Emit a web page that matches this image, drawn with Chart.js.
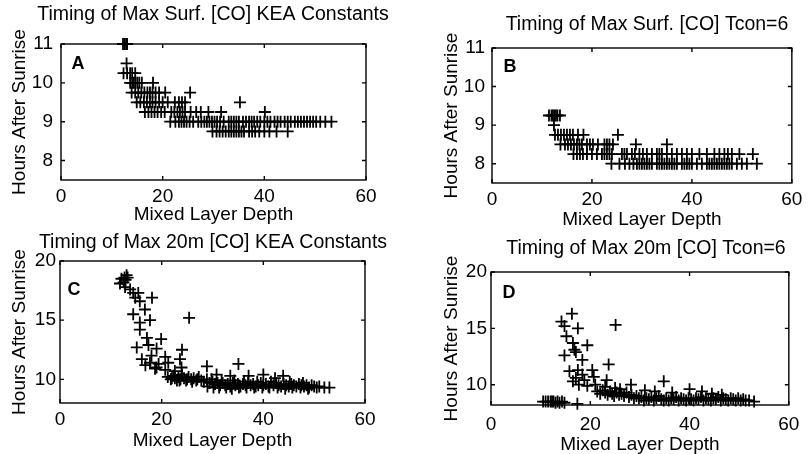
<!DOCTYPE html>
<html>
<head>
<meta charset="utf-8">
<script src="https://cdn.jsdelivr.net/npm/chart.js@4.4.1/dist/chart.umd.min.js"></script>
<style>
  html, body { margin: 0; padding: 0; background: #fff; }
  #page { position: relative; width: 808px; height: 454px; overflow: hidden; background: #fff; }
  #page canvas { position: absolute; left: 0; top: 0; }
</style>
</head>
<body>
<div id="page">
  <canvas id="cA" width="808" height="454"></canvas>
  <canvas id="cB" width="808" height="454"></canvas>
  <canvas id="cC" width="808" height="454"></canvas>
  <canvas id="cD" width="808" height="454"></canvas>
</div>
<script>
const FONT = '"Liberation Sans", Arial, Helvetica, sans-serif';

// ---- data ----
const xTicks = [0, 20, 40, 60];
const yTicksSurf = [8, 9, 10, 11];
const yTicks20m = [10, 15, 20];

// A: surface, KEA constants (timings fall on quarter hours)
const aHours = [11, 10.5, 10.25, 10, 9.75, 9.5, 9.25, 9, 8.75];
const aDepths = [
  [12.2, 12.5, 12.8, 13.0],
  [12.9],
  [12.3, 13.0, 13.6, 14.0, 14.6],
  [13.6, 14.0, 14.3, 14.6, 15.0, 15.4, 15.9, 18.1],
  [13.9, 14.6, 15.2, 15.8, 16.4, 17.0, 17.5, 18.0, 18.6, 19.3, 20.5, 25.4],
  [14.9, 15.6, 16.3, 16.9, 17.5, 18.0, 18.6, 19.3, 20.0, 21.0, 22.4, 23.2, 23.8, 24.4, 35.2],
  [16.5, 17.2, 17.8, 18.4, 19.0, 19.7, 20.4, 21.7, 22.3, 22.9, 23.4, 23.9, 24.4, 25.5, 26.6, 27.5, 29.0, 31.5, 40.1],
  [21.5, 22.5, 23.2, 23.7, 24.2, 24.7, 25.3, 26.0, 27.0, 27.6, 28.2, 28.7, 29.2, 29.7, 30.2, 30.7, 31.3, 32.0,
   33.0, 33.5, 34.0, 34.5, 35.0, 35.8, 36.4, 37.0, 37.5, 38.0, 38.6, 39.2, 40.0, 40.6, 41.2, 42.0, 42.6, 43.2,
   44.0, 44.6, 45.2, 46.0, 46.6, 47.2, 47.8, 48.4, 49.0, 49.6, 50.2, 51.0, 52.0, 53.2],
  [29.8, 30.6, 31.2, 31.8, 32.4, 33.0, 33.5, 34.0, 34.5, 35.0, 35.5, 36.0, 37.0, 37.6, 38.2, 39.0, 40.0, 41.0, 42.4, 44.6]
];

// B: surface, Tcon=6
const bHours = [9.25, 9, 8.75, 8.5, 8.25, 8];
const bDepths = [
  [11.4, 11.9, 12.2, 12.5, 12.8, 13.1, 13.6],
  [12.4],
  [12.6, 13.2, 13.8, 14.4, 15.0, 15.6, 16.2, 17.2, 18.3, 25.2],
  [13.7, 14.6, 15.2, 15.8, 16.4, 17.0, 17.5, 18.0, 19.0, 19.6, 20.2, 21.2, 22.5, 23.0, 23.5, 24.2, 28.8, 35.0],
  [16.3, 17.0, 17.6, 18.2, 19.0, 20.0, 21.0, 22.0, 22.5, 23.0, 23.5, 24.0, 26.0, 26.5, 27.0, 28.0, 28.6,
   29.5, 30.2, 31.0, 32.0, 33.0, 33.5, 34.0, 35.0, 36.0, 37.0, 38.0, 39.0, 40.0, 41.5, 43.0, 44.5, 45.5,
   46.5, 47.2, 48.0, 49.5, 52.2],
  [23.9, 25.5, 26.6, 27.5, 28.3, 29.0, 29.5, 30.0, 30.5, 31.0, 31.5, 32.0, 33.0, 33.5, 34.0, 34.5, 35.0,
   35.5, 36.0, 36.5, 37.0, 38.0, 38.5, 39.0, 39.5, 40.0, 41.0, 42.0, 43.0, 43.5, 44.0, 44.5, 45.0, 45.5,
   46.0, 46.5, 47.0, 47.5, 48.0, 49.0, 50.0, 51.0, 53.0]
];

// C: 20 m, KEA constants  [depth, hours]
const cSteep = [
  [11.8, 18.1], [12.1, 18.5], [12.5, 18.2], [12.7, 18.6], [12.9, 18.4], [13.1, 18.8], [13.3, 18.6], [12.8, 17.8],
  [13.8, 17.6], [14.4, 17.3], [15.4, 17.3], [14.8, 16.9], [18.1, 16.9], [15.7, 16.6], [16.7, 15.9], [14.4, 15.5],
  [17.7, 15.0], [15.7, 14.8], [15.7, 14.2], [25.4, 15.2], [17.1, 13.5], [19.9, 13.4], [17.4, 12.9], [15.1, 12.7],
  [19.0, 12.6], [24.0, 12.5], [16.1, 11.7], [18.0, 12.0], [20.7, 11.9], [17.7, 11.4], [19.4, 11.3], [21.3, 11.4],
  [23.6, 11.7], [23.9, 11.0], [18.7, 10.9], [20.7, 10.8], [22.6, 10.7], [16.8, 11.2], [19.0, 11.0]
];
const cTail = [
  [21.2, 10.2], [21.8, 10.0], [22.0, 10.1], [22.3, 10.3], [22.6, 10.1], [23.0, 9.9], [23.3, 10.2], [23.5, 9.9],
  [23.7, 10.0], [24.0, 10.4], [24.4, 10.1], [24.8, 9.9], [25.0, 10.0], [25.3, 10.2], [25.8, 10.0], [26.0, 9.8],
  [26.3, 10.1], [26.8, 9.9], [27.0, 10.0], [27.3, 10.2], [27.8, 9.9], [28.3, 9.8], [28.9, 10.0], [28.9, 11.1],
  [29.0, 9.4], [29.4, 9.7], [29.8, 10.0], [30.0, 9.8], [30.2, 9.3], [30.5, 9.6], [30.8, 10.4], [31.0, 9.7],
  [31.3, 9.3], [31.5, 9.5], [31.8, 9.9], [32.0, 9.7], [32.5, 9.5], [32.7, 9.3], [33.0, 9.6], [33.5, 10.3],
  [33.5, 9.4], [33.8, 9.2], [34.0, 9.7], [34.3, 9.9], [34.5, 9.5], [35.0, 9.6], [35.1, 11.3], [35.2, 9.3],
  [35.5, 9.4], [36.0, 9.6], [36.2, 9.8], [36.5, 9.5], [36.7, 9.3], [37.0, 9.7], [37.1, 10.3], [37.5, 9.5],
  [38.0, 9.6], [38.2, 9.3], [38.5, 9.4], [38.8, 9.8], [39.0, 9.5], [39.5, 9.7], [39.8, 9.3], [40.0, 10.4],
  [40.0, 9.5], [40.5, 9.6], [41.0, 9.4], [41.2, 9.3], [41.5, 9.8], [42.0, 9.5], [42.3, 10.1], [42.5, 9.7],
  [42.8, 9.3], [43.0, 9.5], [43.5, 9.4], [43.9, 10.3], [44.0, 9.6], [44.3, 9.2], [44.5, 9.5], [45.0, 9.4],
  [45.2, 9.8], [45.5, 9.6], [45.7, 9.3], [46.0, 9.5], [46.5, 9.4], [47.0, 9.6], [47.3, 9.3], [47.5, 9.5],
  [47.8, 9.7], [48.0, 9.4], [48.5, 9.5], [48.8, 9.2], [49.0, 9.3], [49.5, 9.5], [50.0, 9.4], [50.5, 9.3],
  [51.0, 9.4], [52.0, 9.3], [53.0, 9.3]
];

// D: 20 m, Tcon=6  [depth, hours]
const dSteep = [
  [16.3, 16.3], [14.2, 15.6], [14.8, 15.2], [17.5, 15.0], [25.1, 15.3], [15.2, 14.3], [16.5, 13.7], [19.4, 13.5],
  [16.8, 13.1], [17.1, 12.9], [14.8, 12.6], [18.4, 12.2], [15.8, 11.2], [17.5, 11.3], [20.4, 11.3], [23.7, 11.8],
  [16.5, 10.3], [17.1, 10.6], [18.4, 10.9], [18.8, 10.4], [20.7, 10.7], [17.7, 10.0], [19.4, 9.9], [21.0, 10.0],
  [23.3, 10.4], [28.2, 10.0], [34.8, 10.3], [40.0, 9.6]
];
const dShallow = [
  [10.5, 8.5], [11.0, 8.5], [11.5, 8.5], [12.0, 8.5], [12.3, 8.5], [12.6, 8.5], [13.0, 8.4], [13.4, 8.5],
  [13.8, 8.4], [14.3, 8.5], [14.8, 8.4], [17.4, 8.3]
];
const dTail = [
  [21.4, 9.4], [22.0, 9.2], [22.5, 9.5], [23.0, 9.3], [23.0, 9.8], [23.5, 9.1], [24.0, 9.4], [24.4, 9.2],
  [24.8, 9.0], [25.0, 9.7], [25.3, 9.3], [25.8, 9.1], [26.0, 9.6], [26.3, 9.2], [26.8, 9.0], [27.3, 9.3],
  [27.8, 8.9], [28.3, 9.1], [28.8, 8.8], [29.3, 9.0], [29.8, 8.8], [30.3, 8.9], [30.8, 8.6], [31.0, 9.5],
  [31.3, 8.8], [31.8, 8.7], [32.3, 8.9], [32.8, 8.6], [33.0, 9.4], [33.3, 8.8], [33.8, 9.0], [34.3, 8.7],
  [34.8, 8.6], [35.3, 8.8], [35.8, 8.6], [36.3, 8.8], [36.5, 9.3], [36.8, 8.7], [37.3, 8.9], [37.8, 8.6],
  [38.3, 8.8], [38.8, 8.7], [39.3, 8.6], [39.8, 8.8], [40.3, 8.7], [40.8, 8.6], [41.3, 8.8], [41.8, 8.7],
  [42.3, 8.9], [42.5, 9.4], [42.8, 8.6], [43.3, 8.8], [43.8, 8.7], [44.3, 8.6], [44.5, 9.2], [44.8, 8.8],
  [45.3, 8.7], [45.8, 8.9], [46.3, 8.6], [46.5, 9.1], [46.8, 8.8], [47.3, 8.7], [47.8, 8.6], [48.3, 8.8],
  [48.8, 8.7], [49.3, 8.6], [49.8, 8.8], [50.3, 8.6], [50.8, 8.7], [51.3, 8.6], [52.0, 8.6], [53.0, 8.5]
];

// ---- helpers ----
const rows = (hours, depths) => hours.flatMap((h, i) => depths[i].map(d => ({ x: d, y: h })));
const pairs = (...lists) => lists.flat().map(([x, y]) => ({ x, y }));

const W = 808, H = 454, FS = 19, LH = FS * 1.2;

// where each panel sits on the page (box = plot area l,t,r,b)
const panels = [
  { id: "cA", title: "Timing of Max Surf. [CO] KEA Constants", letter: "A",
    points: rows(aHours, aDepths), yMin: 7.5, yMax: 11, yTicks: yTicksSurf,
    box: [61, 44, 366, 180], title_xy: [213, 15], yTitleX: 20, xTitleY: 215, xTickY: 197, yTickPad: 8, letterAt: [17, 20] },
  { id: "cB", title: "Timing of Max Surf. [CO] Tcon=6", letter: "B",
    points: rows(bHours, bDepths), yMin: 7.5, yMax: 11, yTicks: yTicksSurf,
    box: [492, 48, 797, 183], title_xy: [647, 25], yTitleX: 452, xTitleY: 220, xTickY: 200, yTickPad: 7, letterAt: [18, 19] },
  { id: "cC", title: "Timing of Max 20m [CO] KEA Constants", letter: "C",
    points: pairs(cSteep, cTail), yMin: 8, yMax: 20, yTicks: yTicks20m,
    box: [60, 261, 365, 403], title_xy: [213, 243], yTitleX: 20, xTitleY: 441, xTickY: 420, yTickPad: 4, letterAt: [14, 29] },
  { id: "cD", title: "Timing of Max 20m [CO] Tcon=6", letter: "D",
    points: pairs(dSteep, dShallow, dTail), yMin: 8.2, yMax: 20, yTicks: yTicks20m,
    box: [491, 272, 797, 405], title_xy: [646, 249], yTitleX: 452, xTitleY: 445, xTickY: 425, yTickPad: 4, letterAt: [18, 21] }
];

// box with inward ticks on all four sides, the panel letter and the panel title
const framePlugin = {
  id: "frame",
  afterDraw(chart, args, opts) {
    const { ctx, chartArea: a, scales: { x, y } } = chart;
    ctx.save();
    ctx.strokeStyle = "#000";
    ctx.lineWidth = 1.4;
    ctx.strokeRect(a.left, a.top, a.right - a.left, a.bottom - a.top);
    ctx.beginPath();
    x.ticks.forEach(t => {
      const px = x.getPixelForValue(t.value);
      ctx.moveTo(px, a.bottom); ctx.lineTo(px, a.bottom - 4);
      ctx.moveTo(px, a.top); ctx.lineTo(px, a.top + 4);
    });
    y.ticks.forEach(t => {
      const py = y.getPixelForValue(t.value);
      ctx.moveTo(a.left, py); ctx.lineTo(a.left + 4, py);
      ctx.moveTo(a.right, py); ctx.lineTo(a.right - 4, py);
    });
    ctx.stroke();
    ctx.fillStyle = "#000";
    ctx.textAlign = "center";
    ctx.textBaseline = "middle";
    ctx.font = "bold 18px " + FONT;
    ctx.fillText(opts.letter, a.left + opts.at[0], a.top + opts.at[1]);
    ctx.font = "19.5px " + FONT;
    ctx.fillText(opts.title, opts.titleAt[0], opts.titleAt[1]);
    ctx.restore();
  }
};

function makeChart(p) {
  const [l, t, r, b] = p.box;
  const padLeft = p.yTitleX - LH / 2;
  const scaleBottom = p.xTitleY + LH / 2;
  const font = { family: FONT, size: FS };

  new Chart(document.getElementById(p.id), {
    type: "scatter",
    data: {
      datasets: [{
        data: p.points,
        pointStyle: "cross",
        pointRadius: 6,
        borderColor: "#000",
        backgroundColor: "#000",
        borderWidth: 1.8,
        clip: false
      }]
    },
    options: {
      responsive: false,
      animation: false,
      devicePixelRatio: 1,
      events: [],
      layout: { padding: { left: padLeft, top: t, right: W - r, bottom: H - scaleBottom } },
      plugins: {
        legend: { display: false },
        tooltip: { enabled: false },
        title: { display: false },
        frame: { letter: p.letter, at: p.letterAt, title: p.title, titleAt: p.title_xy }
      },
      scales: {
        x: {
          type: "linear",
          min: 0,
          max: 60,
          afterBuildTicks: s => { s.ticks = xTicks.map(v => ({ value: v })); },
          afterFit: s => { s.height = scaleBottom - b; },
          grid: { display: false, drawTicks: false },
          border: { display: false },
          ticks: { color: "#000", font, padding: p.xTickY - b - LH / 2, autoSkip: false, maxRotation: 0 },
          title: { display: true, text: "Mixed Layer Depth", color: "#000", font, padding: 0 }
        },
        y: {
          type: "linear",
          min: p.yMin,
          max: p.yMax,
          afterBuildTicks: s => { s.ticks = p.yTicks.map(v => ({ value: v })); },
          afterFit: s => { s.width = l - padLeft; },
          grid: { display: false, drawTicks: false },
          border: { display: false },
          ticks: { color: "#000", font, padding: p.yTickPad, autoSkip: false },
          title: { display: true, text: "Hours After Sunrise", color: "#000", font, padding: 0 }
        }
      }
    },
    plugins: [framePlugin]
  });
}

panels.forEach(makeChart);
</script>
</body>
</html>
